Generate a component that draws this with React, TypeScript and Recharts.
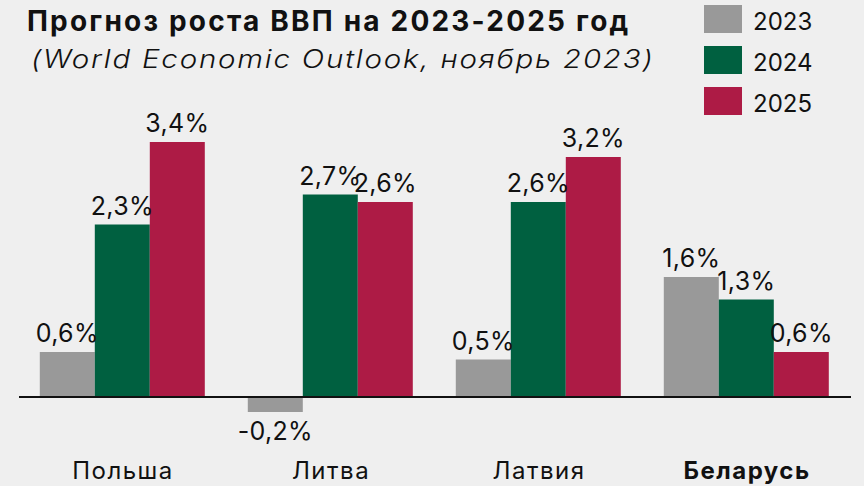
import React from "react";
import { BarChart, Bar, XAxis, YAxis, LabelList, ReferenceLine } from "recharts";

const countries = ["Польша", "Литва", "Латвия", "Беларусь"];
const growth2023 = [0.6, -0.2, 0.5, 1.6];
const growth2024 = [2.3, 2.7, 2.6, 1.3];
const growth2025 = [3.4, 2.6, 3.2, 0.6];

const years = [
  { key: "y2023", name: "2023", color: "#999999" },
  { key: "y2024", name: "2024", color: "#006040" },
  { key: "y2025", name: "2025", color: "#ad1b45" },
];

const FONT = "Inter, Roboto, 'Noto Sans', sans-serif";

const data = countries.map((c, i) => ({
  country: c,
  y2023: growth2023[i],
  y2024: growth2024[i],
  y2025: growth2025[i],
}));

const fmt = (v: number) => v.toFixed(1).replace(".", ",") + "%";

function ValueLabel(props: any) {
  const { x, y, width, height, value } = props;
  const neg = value < 0;
  const cx = x + width / 2;
  const top = Math.min(y, y + height);
  const bottom = Math.max(y, y + height);
  const ty = neg ? bottom + 28 : top - 10;
  return (
    <text x={cx} y={ty} textAnchor="middle" fontSize={25} letterSpacing={0.3} fill="#111" fontFamily={FONT}>
      {fmt(value)}
    </text>
  );
}

function CountryTick(props: any) {
  const { x, y, payload } = props;
  const bold = payload.value === "Беларусь";
  return (
    <text
      x={x}
      y={y + 14}
      textAnchor="middle"
      fontSize={24}
      letterSpacing={1.5}
      fontWeight={bold ? 700 : 400}
      fill="#111"
      fontFamily={FONT}
    >
      {payload.value}
    </text>
  );
}

export default function App() {
  return (
    <div
      style={{
        position: "fixed",
        left: 0,
        top: 0,
        width: 864,
        height: 486,
        background: "#efefef",
        fontFamily: FONT,
        color: "#111",
      }}
    >
      <div style={{ position: "absolute", left: 27, top: 4, fontSize: 28, fontWeight: 700, letterSpacing: 2.2, whiteSpace: "nowrap" }}>
        Прогноз роста ВВП на 2023-2025 год
      </div>
      <div
        style={{
          position: "absolute",
          left: 31,
          top: 44,
          fontSize: 25,
          fontStyle: "italic",
          fontWeight: 300,
          letterSpacing: 1.5,
          whiteSpace: "nowrap",
          transform: "scaleX(1.18)",
          transformOrigin: "left center",
        }}
      >
        (World Economic Outlook, ноябрь 2023)
      </div>
      <div style={{ position: "absolute", left: 704, top: -2 }}>
        {years.map((y) => (
          <div key={y.key} style={{ display: "flex", alignItems: "center", height: 41 }}>
            <div style={{ width: 38, height: 28, background: y.color, marginRight: 11 }} />
            <span style={{ fontSize: 24, position: "relative", top: 3 }}>{y.name}</span>
          </div>
        ))}
      </div>
      <div style={{ position: "absolute", left: 0, top: 0 }}>
        <BarChart
          width={864}
          height={486}
          data={data}
          margin={{ top: 97, right: 13, left: 19, bottom: 0 }}
          barCategoryGap="10%"
          barGap={0}
        >
          <XAxis dataKey="country" axisLine={false} tickLine={false} height={29} tick={<CountryTick />} interval={0} />
          <YAxis hide domain={[-0.8, 4]} type="number" allowDataOverflow />
          {years.map((y) => (
            <Bar key={y.key} dataKey={y.key} name={y.name} fill={y.color} isAnimationActive={false}>
              <LabelList dataKey={y.key} content={<ValueLabel />} />
            </Bar>
          ))}
          <ReferenceLine y={0} stroke="#111" strokeWidth={2} />
        </BarChart>
      </div>
    </div>
  );
}
